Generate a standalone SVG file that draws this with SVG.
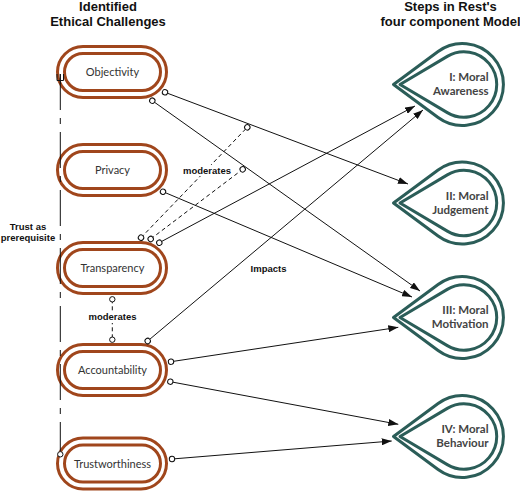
<svg xmlns="http://www.w3.org/2000/svg" width="520" height="492" viewBox="0 0 520 492">
<style>
.title{font-family:"Liberation Sans",Arial,sans-serif;font-weight:bold;font-size:13px;fill:#111;text-anchor:middle}
.pill{fill:none;stroke:#a0461c;stroke-width:3}
.plab{font-family:Lato,"Noto Sans",sans-serif;font-size:11px;fill:#333;text-anchor:middle}
.drop{fill:none;stroke:#2b5d58;stroke-width:3;stroke-linejoin:round}
.dlab{font-family:Lato,"Noto Sans",sans-serif;font-weight:bold;font-size:11.5px;fill:#444;text-anchor:end}
.ln{fill:none;stroke:#111;stroke-width:1}
.dash{stroke-dasharray:4 3}
.lab{font-family:"Liberation Sans",Arial,sans-serif;font-weight:bold;font-size:9.5px;fill:#111;text-anchor:middle}
</style>
<defs>
<marker id="arr" markerUnits="userSpaceOnUse" markerWidth="10" markerHeight="7" refX="10" refY="3.5" orient="auto">
<path d="M0,0 L10,3.5 L0,7 Z" fill="#111"/>
</marker>
<marker id="dot" markerUnits="userSpaceOnUse" markerWidth="8" markerHeight="8" refX="4" refY="4" orient="auto">
<circle cx="4" cy="4" r="2.7" fill="#fff" stroke="#111" stroke-width="1"/>
</marker>
</defs>
<rect width="520" height="492" fill="#fff"/>

<g id="titles">
<text class="title" x="108" y="11">Identified</text>
<text class="title" x="108" y="26">Ethical Challenges</text>
<text class="title" x="450.5" y="11">Steps in Rest's</text>
<text class="title" x="450.5" y="26">four component Model</text>
</g>

<g id="objectivity">
<rect class="pill" x="57.5" y="46.5" width="109" height="51" rx="25.5"/>
<rect class="pill" x="64.5" y="53.5" width="96" height="37" rx="18.5"/>
<text class="plab" x="112.5" y="76">Objectivity</text>
</g>
<g id="privacy">
<rect class="pill" x="57.5" y="144.5" width="109" height="51" rx="25.5"/>
<rect class="pill" x="64.5" y="151.5" width="96" height="37" rx="18.5"/>
<text class="plab" x="112.5" y="174">Privacy</text>
</g>
<g id="transparency">
<rect class="pill" x="57.5" y="242.5" width="109" height="51" rx="25.5"/>
<rect class="pill" x="64.5" y="249.5" width="96" height="37" rx="18.5"/>
<text class="plab" x="112.5" y="272">Transparency</text>
</g>
<g id="accountability">
<rect class="pill" x="57.5" y="344.5" width="109" height="51" rx="25.5"/>
<rect class="pill" x="64.5" y="351.5" width="96" height="37" rx="18.5"/>
<text class="plab" x="112.5" y="374">Accountability</text>
</g>
<g id="trustworthiness">
<rect class="pill" x="57.5" y="438" width="109" height="51" rx="25.5"/>
<rect class="pill" x="64.5" y="445" width="96" height="37" rx="18.5"/>
<text class="plab" x="112.5" y="467.5">Trustworthiness</text>
</g>

<g id="moral-awareness">
<path class="drop" d="M393.5,84.5 L438.1,51.5 A41,41 0 1 1 438.1,117.5 Z"/>
<path class="drop" d="M400,84.5 L447.3,56.4 A32.7,32.7 0 1 1 447.3,112.6 Z"/>
<text class="dlab" x="488.5" y="81">I: Moral</text>
<text class="dlab" x="488.5" y="95">Awareness</text>
</g>
<g id="moral-judgement">
<path class="drop" d="M393.5,203 L438.1,170 A41,41 0 1 1 438.1,236 Z"/>
<path class="drop" d="M400,203 L447.3,174.9 A32.7,32.7 0 1 1 447.3,231.1 Z"/>
<text class="dlab" x="488.5" y="199.5">II: Moral</text>
<text class="dlab" x="488.5" y="213.5">Judgement</text>
</g>
<g id="moral-motivation">
<path class="drop" d="M393.5,317.5 L438.1,284.5 A41,41 0 1 1 438.1,350.5 Z"/>
<path class="drop" d="M400,317.5 L447.3,289.4 A32.7,32.7 0 1 1 447.3,345.6 Z"/>
<text class="dlab" x="488.5" y="314">III: Moral</text>
<text class="dlab" x="488.5" y="328">Motivation</text>
</g>
<g id="moral-behaviour">
<path class="drop" d="M393.5,436.5 L438.1,403.5 A41,41 0 1 1 438.1,469.5 Z"/>
<path class="drop" d="M400,436.5 L447.3,408.4 A32.7,32.7 0 1 1 447.3,464.6 Z"/>
<text class="dlab" x="488.5" y="433">IV: Moral</text>
<text class="dlab" x="488.5" y="447">Behaviour</text>
</g>

<g id="connectors">
<path class="ln" d="M60.3,74 V451" stroke-dasharray="36 8 6 8"/>
<path class="ln" d="M57,74 V80.5 H63.5 V74 M60.3,74 V84"/>
<circle cx="60.3" cy="454.3" r="2.7" fill="#fff" stroke="#111"/>

<path class="ln" d="M165,92.3 L408,184" marker-start="url(#dot)" marker-end="url(#arr)"/>
<path class="ln" d="M152.3,100.7 L420,291" marker-start="url(#dot)" marker-end="url(#arr)"/>
<path class="ln" d="M163,191.7 L412,297" marker-start="url(#dot)" marker-end="url(#arr)"/>
<path class="ln" d="M159.3,242.7 L415,106" marker-start="url(#dot)" marker-end="url(#arr)"/>
<path class="ln" d="M147.7,341 L423,110" marker-start="url(#dot)" marker-end="url(#arr)"/>
<path class="ln" d="M171,361.7 L398.3,327.3" marker-start="url(#dot)" marker-end="url(#arr)"/>
<path class="ln" d="M170.3,381.7 L398.3,424.3" marker-start="url(#dot)" marker-end="url(#arr)"/>
<path class="ln" d="M172,459 L391.7,441" marker-start="url(#dot)" marker-end="url(#arr)"/>

<path class="ln dash" d="M141,237.7 L247.3,127.3" marker-start="url(#dot)" marker-end="url(#dot)"/>
<path class="ln dash" d="M150.7,239 L242.7,169.3" marker-start="url(#dot)" marker-end="url(#dot)"/>
<path class="ln dash" d="M112.3,299.3 V339.7" marker-start="url(#dot)" marker-end="url(#dot)"/>

<rect x="183" y="165" width="48" height="11" fill="#fff"/>
<text class="lab" x="207" y="173.5">moderates</text>
<rect x="88" y="312" width="49" height="11" fill="#fff"/>
<text class="lab" x="112.5" y="320">moderates</text>
<text class="lab" x="268.5" y="271.5">Impacts</text>
<text class="lab" x="28" y="230">Trust as</text>
<text class="lab" x="28" y="241">prerequisite</text>
</g>
</svg>
